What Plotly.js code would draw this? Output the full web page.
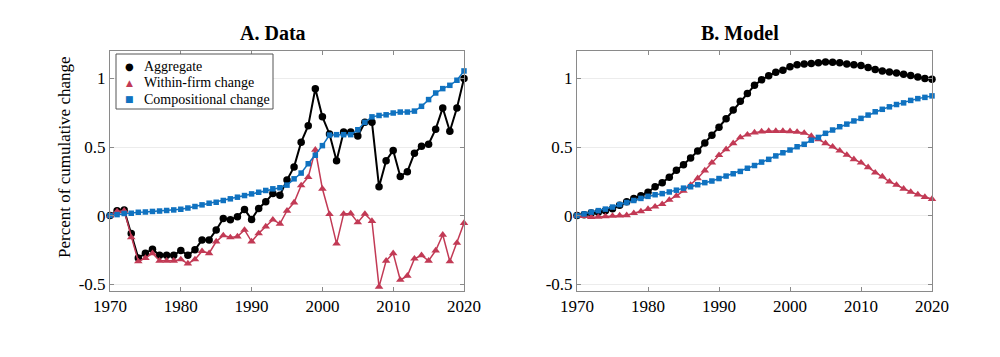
<!DOCTYPE html>
<html>
<head>
<meta charset="utf-8">
<script src="https://cdn.plot.ly/plotly-3.0.1.min.js"></script>
<style>html,body{margin:0;padding:0;background:#fff}#chart{width:1000px;height:357px}</style>
</head>
<body>
<div id="chart"></div>
<script>
const years = [1970,1971,1972,1973,1974,1975,1976,1977,1978,1979,
  1980,1981,1982,1983,1984,1985,1986,1987,1988,1989,
  1990,1991,1992,1993,1994,1995,1996,1997,1998,1999,
  2000,2001,2002,2003,2004,2005,2006,2007,2008,2009,
  2010,2011,2012,2013,2014,2015,2016,2017,2018,2019,2020];

// Panel A: Data
const dataAggregate = [0,0.035,0.04,-0.13,-0.31,-0.275,-0.245,-0.29,-0.29,-0.29,
  -0.255,-0.29,-0.25,-0.178,-0.178,-0.105,-0.022,-0.03,-0.008,0.045,
  -0.028,0.052,0.10,0.16,0.148,0.26,0.355,0.535,0.655,0.925,
  0.72,0.595,0.40,0.61,0.61,0.58,0.68,0.68,0.21,0.40,
  0.475,0.285,0.32,0.455,0.505,0.52,0.63,0.785,0.615,0.785,1.0];
const dataWithin = [0,0.03,0.035,-0.16,-0.335,-0.31,-0.275,-0.33,-0.33,-0.33,
  -0.32,-0.35,-0.32,-0.26,-0.275,-0.19,-0.145,-0.16,-0.153,-0.105,
  -0.19,-0.13,-0.08,-0.03,-0.06,0.035,0.095,0.22,0.28,0.48,
  0.195,0.01,-0.205,0.012,0.015,-0.05,0.012,-0.04,-0.52,-0.33,
  -0.275,-0.47,-0.44,-0.315,-0.29,-0.33,-0.255,-0.14,-0.335,-0.2,-0.055];
const dataComp = [0,0.007,0.015,0.017,0.024,0.026,0.03,0.033,0.037,0.041,
  0.046,0.055,0.066,0.078,0.09,0.097,0.11,0.122,0.134,0.146,
  0.158,0.17,0.183,0.195,0.203,0.222,0.268,0.31,0.378,0.44,
  0.51,0.587,0.59,0.59,0.59,0.626,0.68,0.72,0.73,0.735,
  0.748,0.755,0.755,0.762,0.797,0.846,0.894,0.926,0.95,0.987,1.055];

// Panel B: Model
const modelAggregate = [0,0.005,0.018,0.025,0.035,0.05,0.075,0.10,0.125,0.145,
  0.17,0.21,0.24,0.28,0.33,0.37,0.42,0.47,0.53,0.585,
  0.645,0.706,0.77,0.834,0.89,0.95,0.99,1.02,1.045,1.06,
  1.086,1.10,1.105,1.11,1.115,1.12,1.118,1.115,1.105,1.10,
  1.095,1.08,1.065,1.055,1.048,1.04,1.03,1.022,1.01,1.0,0.995];
const modelWithin = [0,-0.005,-0.012,-0.01,-0.006,-0.003,0,0.002,0.017,0.03,
  0.047,0.065,0.083,0.114,0.143,0.18,0.223,0.272,0.328,0.386,
  0.44,0.483,0.527,0.57,0.59,0.605,0.613,0.616,0.616,0.616,
  0.615,0.61,0.603,0.58,0.556,0.527,0.502,0.473,0.442,0.41,
  0.386,0.352,0.313,0.284,0.247,0.223,0.195,0.172,0.153,0.135,0.12];
const modelComp = [0,0.012,0.025,0.036,0.047,0.062,0.08,0.095,0.11,0.125,
  0.14,0.152,0.16,0.172,0.185,0.2,0.21,0.225,0.24,0.252,
  0.27,0.288,0.305,0.322,0.345,0.365,0.39,0.41,0.435,0.458,
  0.478,0.502,0.52,0.55,0.57,0.6,0.624,0.648,0.667,0.69,
  0.709,0.733,0.757,0.775,0.793,0.81,0.822,0.84,0.853,0.862,0.873];

const seriesNames = ["Aggregate","Within-firm change","Compositional change"];
const legendGlyphs = ["\u25CF","\u25B2","\u25A0"];
const xTicks = [1970,1980,1990,2000,2010,2020];
const yTicks = [-0.5,0,0.5,1];
const yTickText = ["-0.5","0","0.5","1"];
const panelTitles = ["A. Data","B. Model"];
const yTitle = "Percent of cumulative change";

const FONT = "Liberation Serif, Times New Roman, serif";
const colors = ["#000000", "#c23a55", "#1072c0"];
const symbols = ["circle", "triangle-up", "square"];
const msizes = [7.5, 7.5, 5.5];
const lwidths = [2, 1.5, 1.5];

function mk(y, i, xa, ya) {
  return {x: years, y: y, name: seriesNames[i], type: "scatter", mode: "lines+markers",
    xaxis: xa, yaxis: ya, showlegend: false, cliponaxis: false,
    line: {color: colors[i], width: lwidths[i]},
    marker: {color: colors[i], symbol: symbols[i], size: msizes[i]}};
}

const traces = [
  mk(dataAggregate, 0, "x", "y"),
  mk(dataWithin, 1, "x", "y"),
  mk(dataComp, 2, "x", "y"),
  mk(modelAggregate, 0, "x2", "y2"),
  mk(modelWithin, 1, "x2", "y2"),
  mk(modelComp, 2, "x2", "y2")
];

const axCommon = {
  showline: true, linecolor: "#8a8a8a", linewidth: 1, mirror: "allticks",
  ticks: "inside", ticklen: 4, tickcolor: "#8a8a8a", zeroline: false,
  tickfont: {family: FONT, size: 17, color: "#000"}
};
function xax(domain, anchor) {
  return Object.assign({}, axCommon, {domain: domain, anchor: anchor, range: [1970, 2020],
    tickmode: "array", tickvals: xTicks, showgrid: false});
}
function yax(domain, anchor) {
  return Object.assign({}, axCommon, {domain: domain, anchor: anchor, range: [-0.55, 1.2],
    tickmode: "array", tickvals: yTicks, ticktext: yTickText,
    showgrid: true, gridcolor: "#ececec", gridwidth: 1});
}

const W = 1000, H = 357;
const px = v => v / W, py = v => 1 - v / H;

const annotations = [
  {text: "<b>" + panelTitles[0] + "</b>", xref: "paper", yref: "paper", x: px(273), y: py(33),
    xanchor: "center", yanchor: "middle", showarrow: false, font: {family: FONT, size: 20, color: "#000"}},
  {text: "<b>" + panelTitles[1] + "</b>", xref: "paper", yref: "paper", x: px(740), y: py(33),
    xanchor: "center", yanchor: "middle", showarrow: false, font: {family: FONT, size: 20, color: "#000"}},
  {text: yTitle, xref: "paper", yref: "paper", x: px(64), y: py(157), textangle: -90,
    xanchor: "center", yanchor: "middle", showarrow: false, font: {family: FONT, size: 17, color: "#000"}}
];
const legendRows = [66, 82.5, 99];
const glyphSizes = [10, 9, 9];
for (let i = 0; i < 3; i++) {
  annotations.push({text: legendGlyphs[i], xref: "paper", yref: "paper", x: px(129.5), y: py(legendRows[i]),
    xanchor: "center", yanchor: "middle", showarrow: false,
    font: {family: "DejaVu Sans, sans-serif", size: glyphSizes[i], color: colors[i]}});
  annotations.push({text: seriesNames[i], xref: "paper", yref: "paper", x: px(142), y: py(legendRows[i]),
    xanchor: "left", yanchor: "middle", showarrow: false,
    font: {family: FONT, size: 14, color: "#000"}});
}

const layout = {
  width: W, height: H, margin: {l: 0, r: 0, t: 0, b: 0},
  paper_bgcolor: "#fff", plot_bgcolor: "#fff",
  font: {family: FONT, color: "#000"},
  xaxis: xax([0.110, 0.464], "y"),
  yaxis: yax([0.185, 0.857], "x"),
  xaxis2: xax([0.577, 0.932], "y2"),
  yaxis2: yax([0.185, 0.857], "x2"),
  showlegend: false,
  shapes: [
    {type: "rect", xref: "paper", yref: "paper", x0: px(116), x1: px(273), y0: py(109), y1: py(54),
      line: {color: "#555", width: 1}, fillcolor: "#fff", layer: "above"}
  ],
  annotations: annotations
};

Plotly.newPlot("chart", traces, layout, {staticPlot: true, displayModeBar: false});
</script>
</body>
</html>
